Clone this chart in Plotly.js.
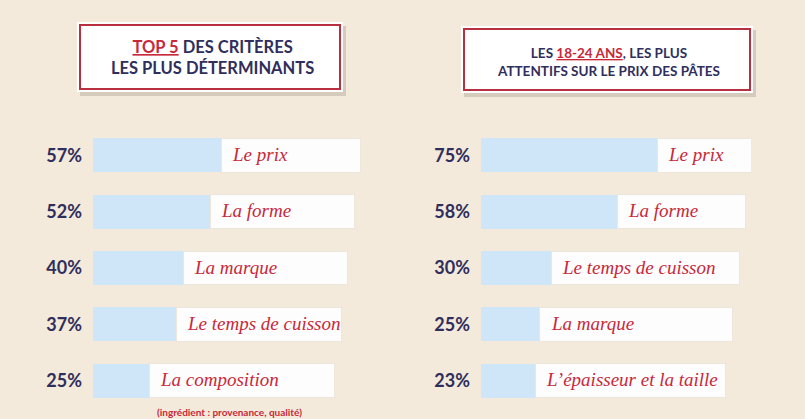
<!DOCTYPE html>
<html>
<head>
<meta charset="utf-8">
<script src="https://cdn.plot.ly/plotly-3.0.1.min.js"></script>
<style>
  html, body { margin: 0; padding: 0; background: #f3eadb; }
  #chart { width: 805px; height: 419px; }
</style>
</head>
<body>
<div id="chart"></div>
<script>
// data
const criteriaLabels = ['Le prix', 'La forme', 'La marque', 'Le temps de cuisson', 'La composition'];
const criteriaValues = [57, 52, 40, 37, 25];

const youngLabels = ['Le prix', 'La forme', 'Le temps de cuisson', 'La marque', "L\u2019épaisseur et la taille"];
const youngValues = [75, 58, 30, 25, 23];

const rows = ['r1', 'r2', 'r3', 'r4', 'r5'];

const W = 805, H = 419;
const navy = '#2f2e5c';
const red = '#c8283a';
const blue = '#cfe6f8';

// white label box: runs from the bar end to a slowly shrinking right edge
function boxRest(values, end, step) {
    return values.map((v, i) => end - i * step - v);
}

function panelTraces(values, xa, ya, end, step) {
    return [
        {
            type: 'bar', orientation: 'h',
            x: values, y: rows,
            xaxis: xa, yaxis: ya,
            marker: { color: blue },
            hoverinfo: 'skip'
        },
        {
            type: 'bar', orientation: 'h',
            x: boxRest(values, end, step), y: rows,
            xaxis: xa, yaxis: ya,
            marker: { color: '#fdfdfd', line: { color: '#ece6dc', width: 1 } },
            hoverinfo: 'skip'
        }
    ];
}

function labelNotes(values, labels, xref, yref) {
    return labels.map((t, i) => ({
        x: values[i], y: rows[i], xref: xref, yref: yref,
        text: t, showarrow: false,
        xanchor: 'left', xshift: 9, yshift: 1,
        font: { family: 'Liberation Serif', size: 19, color: red, style: 'italic' }
    }));
}

const yDomain = [(H - 409) / H, (H - 127) / H];

function yAxis(values) {
    return {
        domain: yDomain,
        type: 'category',
        categoryorder: 'array', categoryarray: rows,
        autorange: 'reversed',
        tickvals: rows,
        ticktext: values.map(v => v + '%'),
        ticks: '', showgrid: false, zeroline: false, showline: false,
        ticklabelstandoff: 10,
        tickfont: { family: 'Lato', size: 18, color: navy, weight: 'bold' }
    };
}

const data = [
    ...panelTraces(criteriaValues, 'x', 'y', 119, 2.9),
    ...panelTraces(youngValues, 'x2', 'y2', 115.5, 2.8)
];

const annotations = [
    ...labelNotes(criteriaValues, criteriaLabels, 'x', 'y'),
    ...labelNotes(youngValues, youngLabels, 'x2', 'y2'),
    {
        x: criteriaValues[4], y: rows[4], xref: 'x', yref: 'y',
        text: '(ingrédient : provenance, qualité)', showarrow: false,
        xanchor: 'left', xshift: 6, yshift: -31,
        font: { family: 'Lato', size: 10, color: red, weight: 'bold' }
    },
    {
        x: 212 / W, y: (H - 58) / H, xref: 'paper', yref: 'paper',
        text: '<span style="color:' + red + '"><u>TOP 5</u></span> DES CRITÈRES<br>LES PLUS DÉTERMINANTS',
        showarrow: false, align: 'center', xanchor: 'center', yanchor: 'middle',
        font: { family: 'Lato', size: 16.5, color: navy, weight: 'bold' }
    },
    {
        x: 608 / W, y: (H - 62) / H, xref: 'paper', yref: 'paper',
        text: 'LES <span style="color:' + red + '"><u>18-24 ANS</u></span>, LES PLUS<br>ATTENTIFS SUR LE PRIX DES PÂTES',
        showarrow: false, align: 'center', xanchor: 'center', yanchor: 'middle',
        font: { family: 'Lato', size: 13.5, color: navy, weight: 'bold' }
    }
];

function titleBox(x0, y0, x1, y1) {
    const px = v => v / W, py = v => (H - v) / H;
    return [
        { type: 'rect', xref: 'paper', yref: 'paper', layer: 'below',
          x0: px(x0 + 3), x1: px(x1 + 3), y0: py(y1 + 4), y1: py(y0 + 4),
          fillcolor: 'rgba(120,110,100,0.25)', line: { width: 0 } },
        { type: 'rect', xref: 'paper', yref: 'paper', layer: 'below',
          x0: px(x0), x1: px(x1), y0: py(y1), y1: py(y0),
          fillcolor: '#ffffff', line: { width: 0 } },
        { type: 'rect', xref: 'paper', yref: 'paper', layer: 'below',
          x0: px(x0 + 3), x1: px(x1 - 3), y0: py(y1 - 3), y1: py(y0 + 3),
          fillcolor: 'rgba(0,0,0,0)', line: { color: '#b8303f', width: 2 } }
    ];
}

const layout = {
    width: W, height: H,
    margin: { l: 0, r: 0, t: 0, b: 0 },
    paper_bgcolor: '#f3eadb',
    plot_bgcolor: 'rgba(0,0,0,0)',
    barmode: 'stack',
    bargap: 0.4,
    showlegend: false,
    xaxis: { domain: [93 / W, 363 / W], range: [0, 120], visible: false, fixedrange: true },
    yaxis: yAxis(criteriaValues),
    xaxis2: { domain: [481 / W, 751 / W], range: [0, 115], visible: false, fixedrange: true },
    yaxis2: Object.assign(yAxis(youngValues), { anchor: 'x2' }),
    shapes: [...titleBox(77, 22, 343, 92), ...titleBox(461, 26, 753, 93)],
    annotations: annotations
};
layout.yaxis.anchor = 'x';
layout.xaxis2.anchor = 'y2';

Plotly.newPlot('chart', data, layout, { displayModeBar: false, staticPlot: true });
</script>
</body>
</html>
